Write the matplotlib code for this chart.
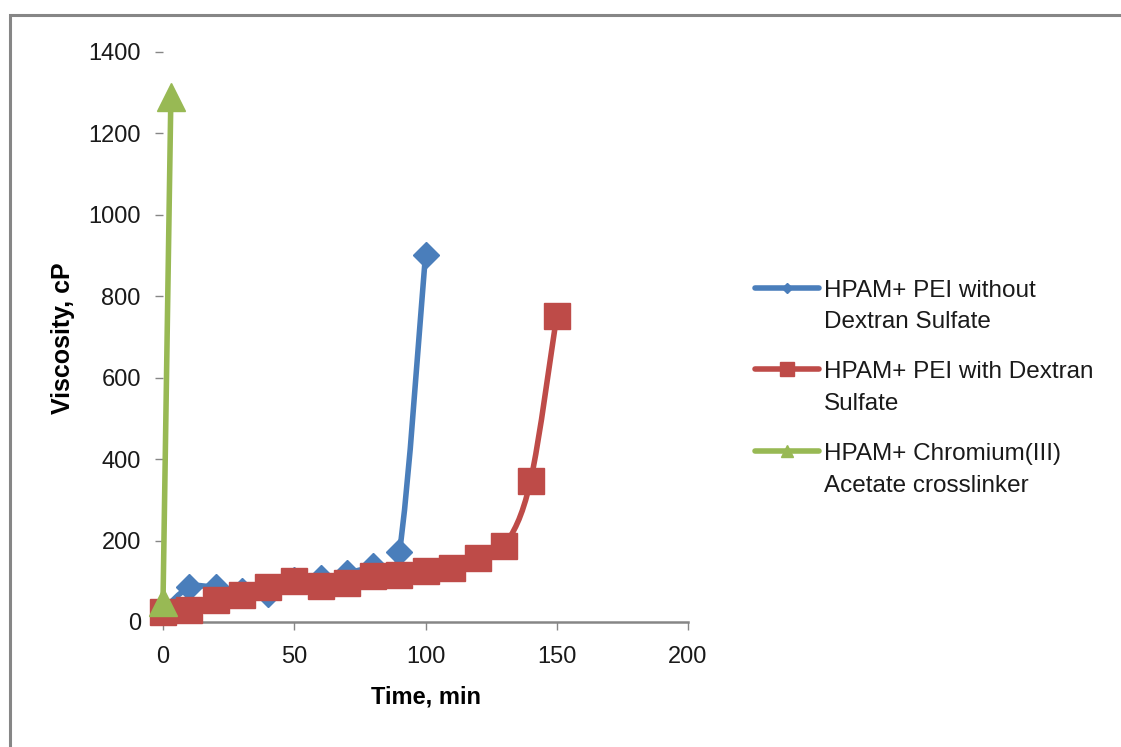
import numpy as np
import matplotlib
matplotlib.use("Agg")
import matplotlib.pyplot as plt
from matplotlib.path import Path
from matplotlib.patches import PathPatch, Rectangle
from matplotlib.lines import Line2D

plt.rcParams['font.family'] = ['Liberation Sans', 'DejaVu Sans']

# --- data: viscosity (cP) vs time (min) ---
t_no_ds = [0, 10, 20, 30, 40, 50, 60, 70, 80, 90, 100]
visc_no_ds = [30, 85, 85, 75, 70, 103, 108, 120, 138, 172, 902]

t_ds = [0, 10, 20, 30, 40, 50, 60, 70, 80, 90, 100, 110, 120, 130, 140, 150]
visc_ds = [25, 30, 54, 66, 86, 100, 88, 96, 113, 115, 125, 133, 157, 187, 346, 752]

t_cr = [0, 3]
visc_cr = [50, 1290]

labels = ['HPAM+ PEI without\nDextran Sulfate',
          'HPAM+ PEI with Dextran\nSulfate',
          'HPAM+ Chromium(III)\nAcetate crosslinker']

BLUE = '#4A7EBB'
RED = '#BE4B48'
GREEN = '#98B954'
GRAY = '#868686'
W, H = 1121, 747


def smooth_path(x, y):
    """Catmull-Rom style bezier through the points (like a smoothed line in a spreadsheet)."""
    pts = np.column_stack([x, y]).astype(float)
    n = len(pts)
    verts = [pts[0]]
    codes = [Path.MOVETO]
    for i in range(n - 1):
        p0 = pts[i - 1] if i > 0 else pts[i]
        p1 = pts[i]
        p2 = pts[i + 1]
        p3 = pts[i + 2] if i + 2 < n else pts[i + 1]
        verts += [p1 + (p2 - p0) / 6.0, p2 - (p3 - p1) / 6.0, p2]
        codes += [Path.CURVE4] * 3
    return Path(verts, codes)


fig = plt.figure(figsize=(W / 100, H / 100), dpi=100)
ax = fig.add_axes([163 / W, 1 - 622 / H, 525 / W, 570 / H])

# blue: without dextran sulfate
ax.add_patch(PathPatch(smooth_path(t_no_ds, visc_no_ds), fill=False, edgecolor=BLUE,
                       lw=4, zorder=2, clip_on=False, capstyle='round'))
ax.plot(t_no_ds, visc_no_ds, linestyle='none', marker='D', ms=13.5, color=BLUE,
        mec=BLUE, zorder=2.1, clip_on=False)

# red: with dextran sulfate
ax.add_patch(PathPatch(smooth_path(t_ds, visc_ds), fill=False, edgecolor=RED,
                       lw=4, zorder=3, clip_on=False, capstyle='round'))
ax.plot(t_ds, visc_ds, linestyle='none', marker='s', ms=19, color=RED,
        mec=RED, zorder=3.1, clip_on=False)

# green: chromium(III) acetate
ax.plot(t_cr, visc_cr, '-', marker='^', ms=19.5, color=GREEN, lw=4,
        mec=GREEN, zorder=4, clip_on=False)

ax.set_xlim(0, 200)
ax.set_ylim(0, 1400)
ax.set_xticks([0, 50, 100, 150, 200])
ax.set_yticks(np.arange(0, 1401, 200))

for s in ['top', 'right', 'left']:
    ax.spines[s].set_visible(False)
ax.spines['bottom'].set_color(GRAY)
ax.spines['bottom'].set_linewidth(1.8)

ax.tick_params(axis='y', direction='out', length=6, width=1, color=GRAY,
               labelsize=17, labelcolor='#1a1a1a', pad=10)
ax.tick_params(axis='x', direction='out', length=6, width=1, color=GRAY,
               labelsize=17, labelcolor='#1a1a1a', pad=11)

ax.set_xlabel('Time, min', fontsize=17, fontweight='bold')
ax.xaxis.set_label_coords(0.5, -(697 - 622) / 570, transform=ax.transAxes)
ax.xaxis.label.set_va('center')
ax.set_ylabel('Viscosity, cP', fontsize=18, fontweight='bold')
ax.yaxis.set_label_coords(-(163 - 63) / 525, (622 - 338) / 570)
ax.yaxis.label.set_va('center')

# legend, drawn by hand so each marker sits level with the first text line
handles = [('D', 5, BLUE), ('s', 10, RED), ('^', 9, GREEN)]
for i, ((mk, ms, col), lab) in enumerate(zip(handles, labels)):
    yh = 288 + i * 81.5
    fy = 1 - yh / H
    fig.add_artist(Line2D([755 / W, 819 / W], [fy, fy], transform=fig.transFigure,
                          color=col, lw=4, solid_capstyle='round'))
    fig.add_artist(Line2D([787 / W], [fy], transform=fig.transFigure, color=col,
                          marker=mk, ms=ms, mec=col, linestyle='none'))
    for j, line in enumerate(lab.split('\n')):
        fig.text(824 / W, 1 - (yh + 9 + j * 31.5) / H, line, fontsize=17.5,
                 color='#1a1a1a', va='baseline', ha='left')

# outer chart border
fig.patches.append(Rectangle((9.5 / W, -0.05), 1.1, 1 - 14.5 / H + 0.05, fill=False,
                             edgecolor=GRAY, lw=2.2, transform=fig.transFigure,
                             figure=fig))

fig.savefig('out.png', dpi=100)
